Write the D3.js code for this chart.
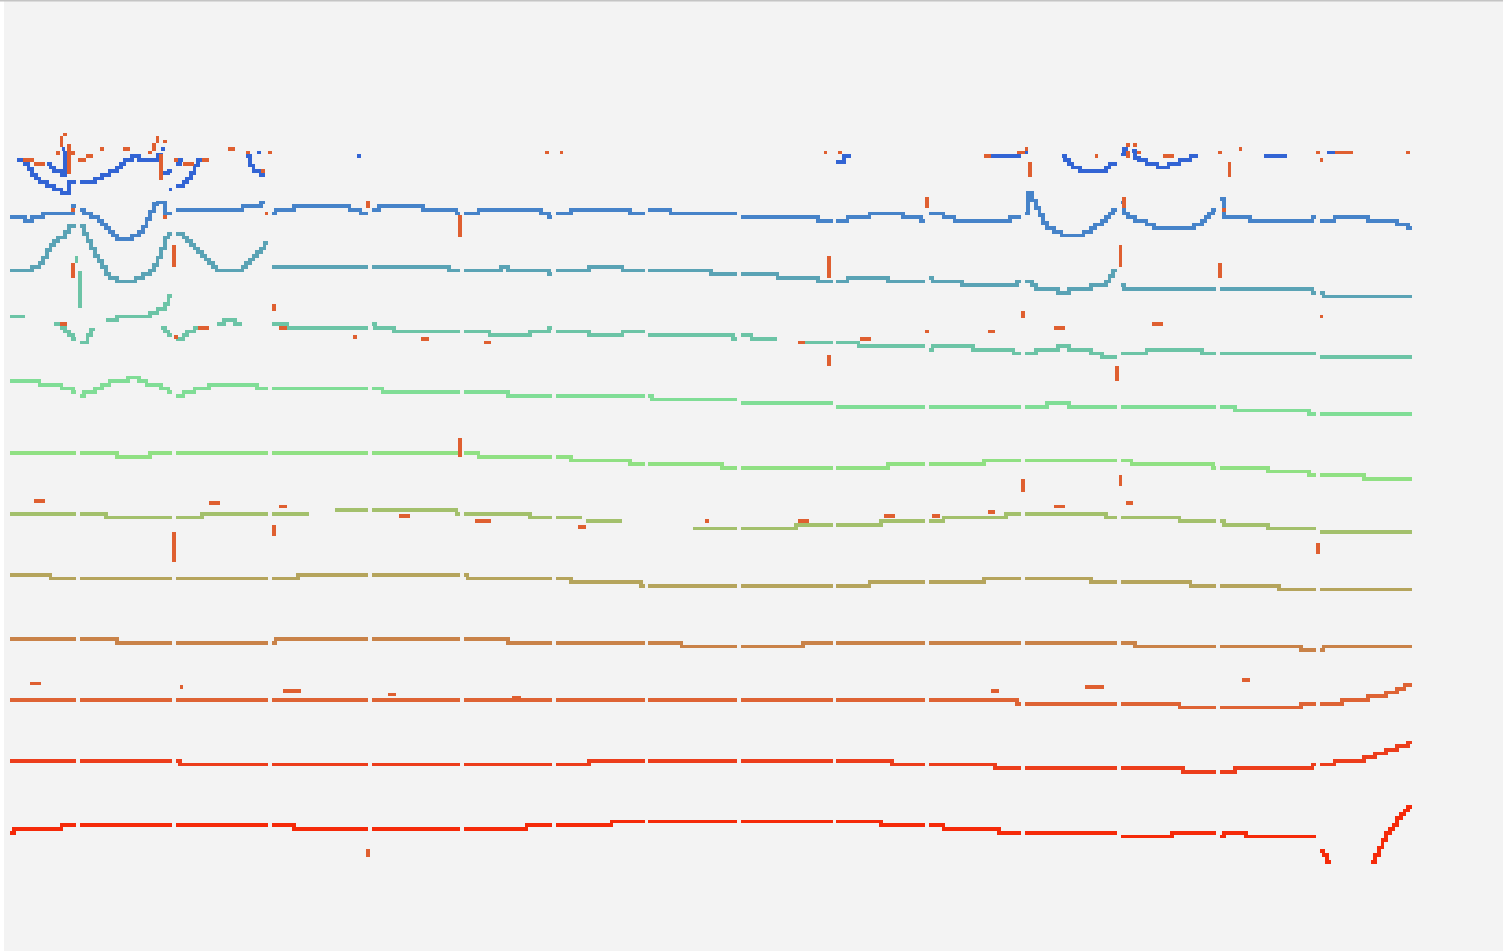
<!DOCTYPE html>
<html>
<head>
<meta charset="utf-8">
<script src="https://cdn.jsdelivr.net/npm/d3@7"></script>
<style>
  html, body { margin: 0; padding: 0; background: #ffffff; }
  svg { display: block; }
</style>
</head>
<body>
<script>
// ---- data -------------------------------------------------------------
// Twelve stacked channels. Each channel is a list of traces; a trace is a list of
// change points [sample, level]: the level holds from that sample until the next
// change point (null = no reading). Samples are equal time steps, levels are
// offsets in level units from the channel's row.
const channels = ["ch01", "ch02", "ch03", "ch04", "ch05", "ch06",
                  "ch07", "ch08", "ch09", "ch10", "ch11", "ch12"];

const channelColors = ["#3264d4", "#4683c9", "#5aa3b5", "#6cc4a6", "#80dd96", "#90e083",
                       "#a3c06c", "#b5a45c", "#c98248", "#de6334", "#ec3d1b", "#f52a09"];

// samples with no reading (one per session boundary)
const sessionBreaks = [18, 44, 70, 97, 122, 147, 172, 197, 223, 248, 274, 300, 327, 354];
const sampleCount = 380;

const ch01 = [
  [[2,0],[4,-1],[5,-2.5],[6,-4],[7,-5],[8,-6],[10,-7],[12,-8],[14,-9],[16,-6],[23,-5],[25,-4],
   [27,-3],[29,-2],[30,-1],[31,0],[33,1],[35,0],[40,1.5],[41,-3.5],[43,-3],[44,-2],[45,-1],[46,0],
   [47,null],[64,1],[65,-1.5],[66,-3],[68,-4],[69,null],[94,1],[95,null],[224,-0.5],[226,1],
   [228,null],[266,1],[275,2],[276,null],[285,1],[286,0],[287,-1],[288,-2],[290,-3],[297,-2],
   [298,-1],[300,0],[301,1.5],[302,3],[303,null],[340,1],[346,null],[357,2],[359,null]],
  [[10,-1],[11,-2],[12,-3],[14,-4],[15,2],[16,null],[41,3],[42,null],[43,-8],[45,-7],[47,-6],
   [48,-5],[49,-3.5],[50,-1.5],[51,0],[52,null],[67,2],[68,null],[304,2.5],[305,0.5],[306,0],
   [308,-1],[311,-2],[314,-1],[317,0],[320,1],[322,null]],
  [[14,3],[15,null]]
];

const ch02 = [
  [[0,1],[4,0],[6,1],[9,2],[17,4],[19,3],[20,2],[22,1],[24,0],[25,-1],[26,-2],[27,-3],[28,-4],
   [29,-5],[33,-4],[35,-3],[36,-1.5],[37,0.5],[38,2.5],[39,4.5],[40,5],[42,2],[45,3],[63,4],
   [68,5],[69,null],[71,2],[72,3],[77,4],[92,3],[95,2],[98,3],[100,4],[112,3],[121,2],[127,3],
   [144,2],[146,1],[148,2],[152,3],[168,2],[173,3],[179,2],[198,1],[219,0],[227,1],[233,2],
   [242,1],[247,0],[249,2],[253,1],[256,0],[271,1],[275,2],[276,7.5],[277,5.5],[278,3.5],
   [279,1.5],[280,-0.5],[281,-2],[283,-3],[285,-4],[291,-3],[293,-2],[294,-1],[296,0],[297,1],
   [298,2],[299,3],[301,5],[302,2],[303,1],[305,0],[308,-1],[310,-2],[321,-1],[323,0],[324,1],
   [325,2],[326,3],[328,6],[329,1],[336,0],[353,1],[355,0],[359,1],[368,0],[376,-1],[379,-2]]
];

const ch03 = [
  [[0,3],[6,4],[8,5],[9,6.5],[10,8.5],[11,10],[12,11],[13,12],[15,13.5],[16,15],[19,15],[20,13],
   [21,11],[22,9],[23,7],[24,5.5],[25,4],[26,2],[27,1],[29,0],[34,1],[36,2],[38,3],[39,4.5],
   [40,6.5],[41,9],[42,12],[43,13],[45,13],[47,12],[48,11],[49,10],[50,9],[51,8],[52,7],[53,6],
   [54,5],[55,4],[56,3],[63,4],[64,5],[65,6],[66,7],[67,8],[68,9],[69,10.5],[71,4],[119,3],
   [133,4],[135,3],[146,2],[148,3],[157,4],[166,3],[190,2],[208,1],[219,0],[227,1],[238,0],
   [249,1],[250,0],[258,-1],[273,0],[277,-1],[278,-2],[284,-3],[287,-2],[293,-1],[297,0],
   [298,1.5],[299,3],[301,-1],[302,-2],[353,-3],[356,-4]]
];

const ch04 = [
  [[0,7],[4,null],[12,5],[14,4],[15,3],[16,2],[17,1],[19,0],[21,2],[22,3.5],[23,null],[26,6],
   [29,7],[38,8],[40,9],[42,10.5],[43,12.5],[45,1],[47,2],[48,3],[50,4],[51,null],[56,5],[58,6],
   [61,5],[63,null],[71,5],[75,4],[98,5],[99,4],[104,3],[130,2],[141,3],[146,4],[148,3],[157,2],
   [166,3],[173,2],[196,1],[198,2],[201,1],[208,null],[215,0],[230,-1],[249,-2],[250,-1],
   [261,-2],[272,-3],[278,-2],[284,-1],[287,-2],[293,-3],[296,-4],[301,-3],[308,-2],[323,-3],
   [355,-4]],
  [[41,4],[42,3],[43,2],[44,null]]
];

const ch05 = [
  [[0,6],[8,5],[14,4],[17,3],[19,2],[20,3],[23,4],[25,5],[27,6],[32,7],[35,6],[37,5],[41,4],
   [43,3],[45,2],[47,3],[50,4],[54,5],[67,4],[101,3],[135,2],[174,1],[198,0],[224,-1],[281,0],
   [287,-1],[332,-2],[352,-3]]
];

const ch06 = [
  [[0,3],[29,2],[38,3],[127,2],[152,1],[168,0],[193,-1],[238,0],[264,1],[304,0],[326,-1],
   [341,-2],[352,-3],[367,-4]]
];

const ch07 = [
  [[0,3],[26,2],[52,3],[81,null],[88,4],[121,3],[141,2],[155,null],[156,1],[166,null],[185,-1],
   [213,0],[236,1],[253,2],[270,3],[297,2],[317,1],[329,0],[341,-1],[355,-2]]
];

const ch08 = [
  [[0,3],[11,2],[78,3],[124,2],[152,1],[171,0],[233,1],[264,2],[293,1],[320,0],[344,-1]]
];

const ch09 = [
  [[0,2],[29,1],[72,2],[135,1],[182,0],[215,1],[305,0],[350,-1],[356,0]]
];

const ch10 = [
  [[0,2],[273,1],[317,0],[350,1],[361,2],[368,3],[373,4],[376,5],[378,6]]
];

const ch11 = [
  [[0,2],[46,1],[157,2],[239,1],[267,0],[318,-1],[332,0],[353,1],[359,2],[367,3],[370,4],
   [373,5],[376,6],[379,7]]
];

const ch12 = [
  [[0,-1],[1,0],[14,1],[77,0],[140,1],[163,2],[236,1],[253,0],[268,-1],[301,-2],[315,-1],
   [328,-2],[329,-1],[335,-2],[355,-6],[356,-7],[357,-9],[358,null],[369,-9],[370,-7],[371,-5],
   [372,-3],[373,-1],[374,0],[375,1],[376,3],[377,4],[378,5],[379,6]]
];

const channelTraces = [ch01, ch02, ch03, ch04, ch05, ch06, ch07, ch08, ch09, ch10, ch11, ch12];

// short bursts drawn in the channel's own colour: [channel, fromSample, toSample, lowLevel, highLevel]
const channelBursts = [
  [3, 18.5, 19.5, 9.3, 19.4],
  [3, 17.5, 18.5, 21.5, 23.4]
];

const eventColor = "#df5f30";
// flagged events: [channel, fromSample, toSample, lowLevel, highLevel]
const events = [
  [0,13.5,14.5,3.5,6.5],[0,14.5,15.5,6.5,7.3],[0,15.5,16.5,-3.8,4.3],[0,12.5,13.5,1.4,2.4],
  [0,16.5,17.5,1.4,2.4],[0,24.5,25.5,2.5,3.5],[0,30.5,32.5,2.5,3.5],[0,18.5,20.5,-0.5,0.5],
  [0,20.5,22.5,0.5,1.5],[0,6.5,9.5,-1.5,-0.5],[0,3.5,6.5,-0.5,0.5],[0,37.5,38.5,1.5,2.5],
  [0,38.5,39.5,2.5,4.5],[0,39.5,40.5,4.5,6.5],[0,41.5,42.5,4.5,5.5],[0,40.5,41.5,-5.5,1.5],
  [0,44.5,45.5,-0.5,0.5],[0,47,50,-1.5,-0.5],[0,52,54,-0.5,0.5],[0,59,61,2.5,3.5],
  [0,64,65,1.5,2.5],[0,68,69,-3.5,-2.5],[0,70,71,1.5,2.5],[0,145,146,1.5,2.5],
  [0,149,150,1.5,2.5],[0,220.5,221.5,1.5,2.5],[0,224.5,225.5,1.5,2.5],[0,264,266,0.5,1.5],
  [0,273,275,1.5,2.5],[0,275,276,2.5,3.5],[0,276,277,-4.5,-0.5],[0,294,295,0.5,1.5],
  [0,302.5,303.5,3.5,4.5],[0,304.5,305.5,3.5,4.5],[0,302.5,303.5,0.5,2.5],[0,305.5,306.5,1.5,2.5],
  [0,312.5,315.5,0.5,1.5],[0,327.5,328.5,1.5,2.5],[0,330,331,-4.5,-0.5],[0,333,334,2.5,3.5],
  [0,354,355,1.5,2.5],[0,355,356,-0.5,0.5],[0,359,364,1.5,2.5],[0,378.5,379.5,1.5,2.5],
  [1,16.5,17.5,2.5,3.5],[1,41.5,42.5,0.5,1.5],[1,69,70,1.5,2.5],[1,96.5,97.5,3.5,5.5],
  [1,121.5,122.5,-4.5,1.5],[1,248,249,3.5,6.5],[1,301.5,302.5,3.5,6.5],[1,328.5,329.5,2.5,3.5],
  [2,16.5,17.5,1,5],[2,44,45,4,10],[2,221.5,222.5,1,7],[2,300.5,301.5,4,10],[2,327.5,328.5,1,5],
  [3,13.5,15.5,4.5,5.5],[3,44.5,45.5,1,2],[3,51,54,3.5,4.5],[3,71,72,8.5,10.5],[3,73,75,3.5,4.5],
  [3,93,94,1,2],[3,111.5,113.5,0.5,1.5],[3,128.5,130.5,-0.5,0.5],[3,248,249,2.5,3.5],
  [3,265,267,2.5,3.5],[3,274,275,6.5,8.5],[3,213.5,215.5,-0.5,0.5],[3,230.5,233.5,0.5,1.5],
  [3,283,286,3.5,4.5],[3,309.5,312.5,4.5,5.5],[3,355,356,6.5,7.5],
  [4,221.5,222.5,10,13],[4,299.5,300.5,6,10],
  [5,121.5,122.5,2,7],[5,274,275,-7.5,-4],[5,300.5,301.5,-6,-3],
  [6,6.5,9.5,6,7],[6,54,57,5.5,6.5],[6,73,75,4.5,5.5],[6,44,45,-10,-2],[6,71,72,-3,0],
  [6,105.5,108.5,2,3],[6,126,130.5,0.5,1.5],[6,154,156,-1,0],[6,188.5,189.5,0.5,1.5],
  [6,213.5,216.5,0.5,1.5],[6,237,240,2,3],[6,250,252,2,3],[6,265,267,3,4],[6,283,286,4.5,5.5],
  [6,302.5,304.5,5.5,6.5],[6,354,355,-8,-5],
  [9,5.5,8.5,6,7],[9,46,47,5,6],[9,74,79,4,5],[9,102.5,104.5,3,4],[9,136,138.5,2,3],
  [9,266,268,4,5],[9,291.5,296.5,5,6],[9,334,336,7,8],
  [11,96.5,97.5,-7.5,-5.5]
];

// ---- layout -----------------------------------------------------------
const W = 1503, H = 951;

const svg = d3.select("body").append("svg")
  .attr("width", W).attr("height", H);

svg.append("rect").attr("x", 4).attr("y", 0).attr("width", W - 4).attr("height", H)
  .attr("fill", "#f3f3f3");
svg.append("rect").attr("x", 0).attr("y", 0).attr("width", W).attr("height", 1.5)
  .attr("fill", "#c4c4c4");

const x = d3.scaleLinear().domain([0, sampleCount]).range([10, 1412]);
const cell = x(1) - x(0);
const row = d3.scalePoint().domain(channels).range([160, 829]);
const lift = d3.scaleLinear().domain([0, 1]).range([0, -cell]);

// expand change points into one level per sample, blank at session breaks
function sampleLevels(trace) {
  const vals = new Array(sampleCount).fill(null);
  let k = 0;
  for (let i = 0; i < sampleCount; i++) {
    while (k < trace.length && trace[k][0] <= i) k++;
    vals[i] = k > 0 ? trace[k - 1][1] : null;
  }
  sessionBreaks.forEach(b => { vals[b] = null; });
  return vals;
}

// split a sample series into unbroken runs of [sample, level] points
function runs(vals) {
  const out = [];
  let cur = null;
  for (let i = 0; i <= vals.length; i++) {
    const v = i < vals.length ? vals[i] : null;
    if (v == null) {
      if (cur) { cur.push([i, cur[cur.length - 1][1]]); out.push(cur); cur = null; }
      continue;
    }
    if (!cur) cur = [];
    cur.push([i, v]);
  }
  return out;
}

const lineLayer = svg.append("g").attr("fill", "none");

channels.forEach((name, ci) => {
  const base = row(name);
  const line = d3.line()
    .x(d => x(d[0]))
    .y(d => base + lift(d[1]))
    .curve(d3.curveStepAfter);
  const g = lineLayer.append("g")
    .attr("stroke", channelColors[ci])
    .attr("stroke-width", cell)
    .attr("stroke-linejoin", "miter")
    .attr("stroke-linecap", "butt")
    .attr("shape-rendering", "crispEdges");
  channelTraces[ci].forEach(trace => {
    runs(sampleLevels(trace)).forEach(r => {
      g.append("path").attr("d", line(r));
    });
  });
});

function boxes(layer, data, color) {
  layer.selectAll("rect").data(data).join("rect")
    .attr("x", d => x(d[1]))
    .attr("width", d => x(d[2]) - x(d[1]))
    .attr("y", d => row(channels[d[0]]) + lift(d[4]))
    .attr("height", d => lift(d[3]) - lift(d[4]))
    .attr("fill", typeof color === "function" ? color : () => color)
    .attr("shape-rendering", "crispEdges");
}

boxes(svg.append("g"), channelBursts, d => channelColors[d[0]]);
boxes(svg.append("g"), events, eventColor);
</script>
</body>
</html>
